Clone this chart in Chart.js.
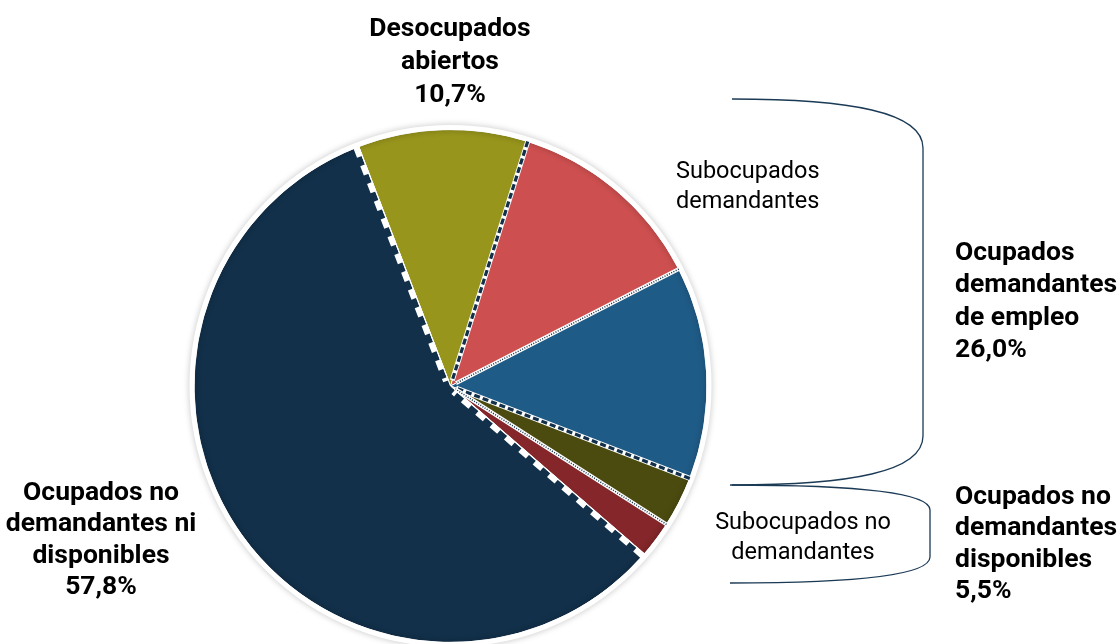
<!DOCTYPE html>
<html><head><meta charset="utf-8">
<script src="https://cdn.jsdelivr.net/npm/chart.js@4/dist/chart.umd.min.js"></script>
<style>html,body{margin:0;padding:0;background:#fff}#wrap{width:1119px;height:644px;position:relative}</style>
</head><body><div id="wrap"><canvas id="c" width="1119" height="644"></canvas></div>
<script>
const categories = ["Desocupados abiertos","Subocupados demandantes","Otros ocupados demandantes","Subocupados no demandantes","Otros ocupados no demandantes disponibles","Ocupados no demandantes ni disponibles"];
const values = [10.7, 12.6, 13.4, 3.2, 2.3, 57.8];
const colors = ["#97951c","#cd4f4f","#1f5b87","#4b4b10","#84262a","#12304a"];
const labelDesocupados = ["Desocupados","abiertos","10,7%"];
const labelSubDem = ["Subocupados","demandantes"];
const labelOcupDem = ["Ocupados","demandantes","de empleo","26,0%"];
const labelSubNoDem = ["Subocupados no","demandantes"];
const labelOcupNoDemDisp = ["Ocupados no","demandantes","disponibles","5,5%"];
const labelOcupNoDemNi = ["Ocupados no","demandantes ni","disponibles","57,8%"];

// boundary styles at start of each slice
const boundaryStyles = ["whiteDash","navyDash","dotted","navyDash","dotted","whiteDash"];

const overlay = {
  id:'overlay',
  afterDatasetsDraw(chart){
    const ctx = chart.ctx;
    const meta = chart.getDatasetMeta(0);
    const a0 = meta.data[0];
    const cx = a0.x, cy = a0.y, R = a0.outerRadius;
    // outer white ring with shadow
    ctx.save();
    ctx.shadowColor='rgba(0,0,0,0.25)'; ctx.shadowBlur=6;
    ctx.strokeStyle='#ffffff'; ctx.lineWidth=5;
    ctx.beginPath(); ctx.arc(cx,cy,R+2,0,Math.PI*2); ctx.stroke();
    ctx.restore();
    // slice boundaries
    meta.data.forEach((arc,i)=>{
      const ang = arc.startAngle;
      const st = boundaryStyles[i];
      // offset white dashes to the navy (previous slice) side
      const off = st==='whiteDash' ? (i===0 ? -2.5 : 2.5) : 0;
      const px = -Math.sin(ang)*off, py = Math.cos(ang)*off;
      const x1 = cx + Math.cos(ang)*6 + px, y1 = cy + Math.sin(ang)*6 + py;
      const x2 = cx + Math.cos(ang)*R + px, y2 = cy + Math.sin(ang)*R + py;
      const bx1 = cx + Math.cos(ang)*6, by1 = cy + Math.sin(ang)*6;
      const bx2 = cx + Math.cos(ang)*R, by2 = cy + Math.sin(ang)*R;
      ctx.save();
      ctx.lineCap='butt';
      const line=(w,c,d,a,b,e,f)=>{ctx.beginPath();ctx.setLineDash(d);ctx.lineWidth=w;ctx.strokeStyle=c;ctx.moveTo(a,b);ctx.lineTo(e,f);ctx.stroke();};
      if(st==='whiteDash'){
        line(1.2,'#ffffff',[],bx2,by2,bx1,by1);
        line(6,'#ffffff',[10,9],x2,y2,x1,y1);
      } else if(st==='navyDash'){
        line(5,'#ffffff',[],bx2,by2,bx1,by1);
        line(3.2,'#12304a',[6,3],bx2,by2,bx1,by1);
      } else {
        line(4,'#ffffff',[],bx2,by2,bx1,by1);
        line(1.5,'#12304a',[1,1.5],bx2,by2,bx1,by1);
      }
      ctx.restore();
    });
    // brackets
    ctx.save();
    ctx.strokeStyle='#1b3a55'; ctx.lineWidth=1.3; ctx.setLineDash([]);
    ctx.beginPath();
    ctx.moveTo(732,99);
    ctx.bezierCurveTo(850,99,923,112,923,148);
    ctx.lineTo(923,436);
    ctx.bezierCurveTo(923,472,850,485,732,485);
    ctx.stroke();
    ctx.beginPath();
    ctx.moveTo(730,485);
    ctx.bezierCurveTo(860,485,930,493,930,510);
    ctx.lineTo(930,557);
    ctx.bezierCurveTo(930,575,860,583,730,583);
    ctx.stroke();
    ctx.restore();
    // texts
    ctx.save();
    ctx.fillStyle='#000';
    ctx.textBaseline='middle';
    const draw=(lines,x,y0,lh,font,align)=>{ctx.font=font;ctx.textAlign=align;lines.forEach((t,k)=>ctx.fillText(t,x,y0+k*lh));};
    const B='bold 26.5px Roboto', N='23.5px Roboto';
    draw(labelDesocupados,450,29,33,B,'center');
    draw(labelSubDem,676,172,30,N,'left');
    draw(labelOcupDem,955,253,32.5,B,'left');
    draw(labelOcupNoDemDisp,955,497,31.5,B,'left');
    draw(labelSubNoDem,803,523,30,N,'center');
    draw(labelOcupNoDemNi,101,493,31.5,B,'center');
    ctx.restore();
  }
};

new Chart(document.getElementById('c'),{
  type:'pie',
  data:{labels:categories,datasets:[{data:values,backgroundColor:colors,borderColor:'#ffffff',borderWidth:1}]},
  options:{
    responsive:false,animation:false,rotation:-21,
    layout:{padding:{left:193,right:411,top:129,bottom:1}},
    plugins:{legend:{display:false},tooltip:{enabled:false}}
  },
  plugins:[overlay]
});
</script></body></html>
